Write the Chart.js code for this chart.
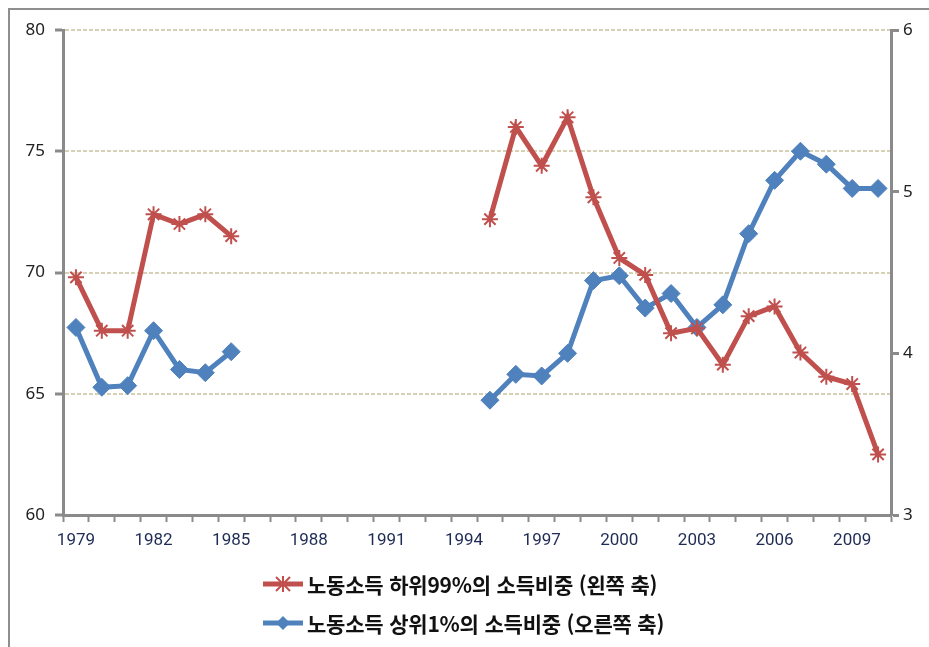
<!DOCTYPE html>
<html lang="ko">
<head>
<meta charset="utf-8">
<title>노동소득 상위1% / 하위99% 소득비중</title>
<script src="https://cdn.jsdelivr.net/npm/chart.js@4.4.1/dist/chart.umd.min.js"></script>
<style>
  html, body { margin: 0; padding: 0; background: #fff; }
  #page { position: relative; width: 929px; height: 647px; overflow: hidden; }
  #frame { position: absolute; left: 8px; top: 8px; width: 940px; height: 700px;
           border: 2px solid #8e8e8e; box-sizing: border-box; }
  #chart { position: absolute; left: 0; top: 0; }
  .legend-row { position: absolute; left: 262px; height: 28px; display: flex; align-items: center;
                font-family: "Noto Sans CJK KR", "Noto Sans", sans-serif; font-size: 21px; color: #111;
                font-weight: 700; letter-spacing: -0.2px; white-space: nowrap; }
  .legend-row svg { margin-right: 3px; }
</style>
</head>
<body>
<div id="page">
  <div id="frame"></div>
  <canvas id="chart" width="929" height="647"></canvas>
  <div class="legend-row" style="top:570px">
    <svg width="42" height="20"><line x1="1" y1="10" x2="41" y2="10" stroke="#C0504D" stroke-width="5"/>
      <g stroke="#C0504D" stroke-width="2"><line x1="14" y1="3" x2="28" y2="17"/><line x1="28" y1="3" x2="14" y2="17"/><line x1="21" y1="2" x2="21" y2="18"/></g></svg>
    <span>노동소득 하위99%의 소득비중 (왼쪽 축)</span>
  </div>
  <div class="legend-row" style="top:609px">
    <svg width="42" height="20"><line x1="1" y1="10" x2="41" y2="10" stroke="#4F81BD" stroke-width="5"/>
      <polygon points="21,3 28,10 21,17 14,10" fill="#4F81BD"/></svg>
    <span>노동소득 상위1%의 소득비중 (오른쪽 축)</span>
  </div>
</div>
<script>
  const YEARS = ['1979', '1980', '1981', '1982', '1983', '1984', '1985', '1986', '1987', '1988',
    '1989', '1990', '1991', '1992', '1993', '1994', '1995', '1996', '1997', '1998', '1999',
    '2000', '2001', '2002', '2003', '2004', '2005', '2006', '2007', '2008', '2009', '2010'];

  // 하위 99% 소득비중 (왼쪽 축, %)
  const BOTTOM99 = [69.8, 67.6, 67.6, 72.4, 72.0, 72.4, 71.5, null, null, null,
    null, null, null, null, null, null, 72.2, 76.0, 74.4, 76.4, 73.1,
    70.6, 69.9, 67.5, 67.7, 66.2, 68.2, 68.6, 66.7, 65.7, 65.4, 62.5];

  // 상위 1% 소득비중 (오른쪽 축, %)
  const TOP1 = [4.16, 3.79, 3.80, 4.14, 3.90, 3.88, 4.01, null, null, null,
    null, null, null, null, null, null, 3.71, 3.87, 3.86, 4.00, 4.45,
    4.48, 4.28, 4.37, 4.16, 4.30, 4.74, 5.07, 5.25, 5.17, 5.02, 5.02];

  const LEFT_TICKS = [60, 65, 70, 75, 80];
  const RIGHT_TICKS = [3, 4, 5, 6];

  const RED = '#C0504D';
  const BLUE = '#4F81BD';
  const AXIS = '#8a8a8a';
  const GRID = 'rgba(196, 190, 150, 0.7)';

  const tickFont = { family: '"Noto Sans", "DejaVu Sans", sans-serif', size: 17 };

  new Chart(document.getElementById('chart').getContext('2d'), {
    type: 'line',
    data: {
      labels: YEARS,
      datasets: [
        {
          label: '노동소득 하위99%의 소득비중 (왼쪽 축)',
          data: BOTTOM99,
          yAxisID: 'y',
          borderColor: RED,
          backgroundColor: RED,
          borderWidth: 5,
          pointStyle: 'star',
          pointRadius: 8,
          pointBorderWidth: 2,
          pointBorderColor: RED,
          spanGaps: false,
          tension: 0,
        },
        {
          label: '노동소득 상위1%의 소득비중 (오른쪽 축)',
          data: TOP1,
          yAxisID: 'y2',
          borderColor: BLUE,
          backgroundColor: BLUE,
          borderWidth: 5,
          pointStyle: 'rectRot',
          pointRadius: 9,
          pointBorderWidth: 1,
          pointBorderColor: BLUE,
          spanGaps: false,
          tension: 0,
        },
      ],
    },
    options: {
      responsive: false,
      animation: false,
      layout: { padding: { top: 30, left: 0, right: 0, bottom: 0 } },
      plugins: { legend: { display: false }, tooltip: { enabled: false } },
      scales: {
        x: {
          type: 'category',
          offset: true,
          afterFit: (s) => { s.height = 132; },
          grid: { offset: true, drawOnChartArea: false, drawTicks: true, tickLength: 7,
                  tickColor: AXIS, tickWidth: 2 },
          border: { color: AXIS, width: 3 },
          ticks: {
            autoSkip: false, maxRotation: 0, padding: 9, color: '#1f2b55',
            font: { family: '"Liberation Sans Narrow", "Roboto", sans-serif', size: 17 },
            callback: (v, i) => (i % 3 === 0 ? YEARS[i] : ''),
          },
        },
        y: {
          position: 'left',
          min: 60,
          max: 80,
          afterFit: (s) => { s.width = 63; },
          afterBuildTicks: (s) => { s.ticks = LEFT_TICKS.map((v) => ({ value: v })); },
          grid: { color: (c) => (c.tick && c.tick.value === 60 ? 'rgba(0,0,0,0)' : GRID), lineWidth: 2,
                  tickLength: 8, tickColor: AXIS, tickWidth: 3, tickBorderDash: [] },
          border: { color: AXIS, width: 3, dash: [4, 2] },
          ticks: { padding: 10, color: '#222', font: tickFont },
        },
        y2: {
          position: 'right',
          min: 3,
          max: 6,
          afterFit: (s) => { s.width = 38; },
          afterBuildTicks: (s) => { s.ticks = RIGHT_TICKS.map((v) => ({ value: v })); },
          grid: { drawOnChartArea: false, tickLength: 8, tickColor: AXIS, tickWidth: 3 },
          border: { color: AXIS, width: 3 },
          ticks: { padding: 4, color: '#222', font: tickFont },
        },
      },
    },
  });
</script>
</body>
</html>
